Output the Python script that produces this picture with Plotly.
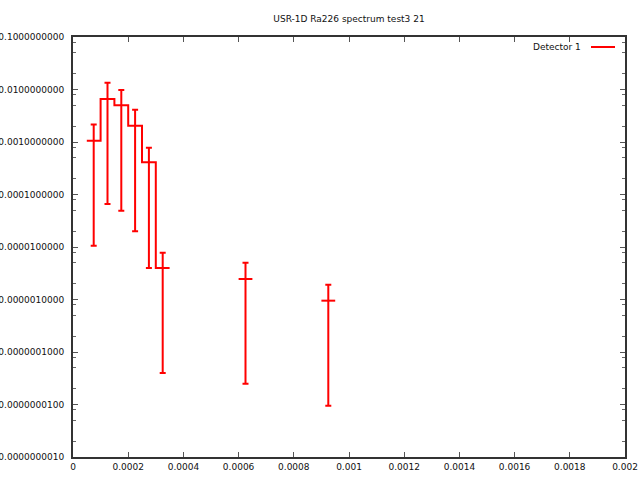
import plotly.graph_objects as go

# ---- data ----
bin_width = 0.00005
bin_lo = [0.00005, 0.0001, 0.00015, 0.0002, 0.00025, 0.0003, 0.0006, 0.0009]
values = [1.06e-3, 6.6e-3, 5.0e-3, 2.05e-3, 4.1e-4, 4.0e-6, 2.46e-6, 9.5e-7]
upper = [2.15e-3, 1.34e-2, 9.8e-3, 4.1e-3, 7.8e-4, 7.8e-6, 5.0e-6, 1.9e-6]
lower = [1.06e-5, 6.6e-5, 4.9e-5, 2.0e-5, 4.0e-6, 4.0e-8, 2.48e-8, 9.5e-9]

x_tickvals = [0, 0.0002, 0.0004, 0.0006, 0.0008, 0.001, 0.0012, 0.0014, 0.0016, 0.0018, 0.002]
x_ticktext = ["0", "0.0002", "0.0004", "0.0006", "0.0008", "0.001", "0.0012", "0.0014", "0.0016", "0.0018", "0.002"]
y_tickvals = [1e-9, 1e-8, 1e-7, 1e-6, 1e-5, 1e-4, 1e-3, 1e-2, 1e-1]
y_ticktext = ["0.0000000010", "0.0000000100", "0.0000001000", "0.0000010000", "0.0000100000",
              "0.0001000000", "0.0010000000", "0.0100000000", "0.1000000000"]
y_minor_factors = [2, 5, 8]

title = "USR-1D Ra226 spectrum test3 21"
series_name = "Detector 1"

RED = "#ff0000"
AX = "#333333"
FONT = "DejaVu Sans"

# ---- build histogram steps (histeps style) ----
centers = [lo + bin_width / 2 for lo in bin_lo]
sx, sy = [], []
for i, lo in enumerate(bin_lo):
    contiguous = i > 0 and abs(lo - (bin_lo[i - 1] + bin_width)) < 1e-12
    if i > 0 and not contiguous:
        sx.append(bin_lo[i - 1] + bin_width); sy.append(values[i - 1])
        sx.append(None); sy.append(None)
    sx.append(lo); sy.append(values[i])
sx.append(bin_lo[-1] + bin_width); sy.append(values[-1])

fig = go.Figure()
fig.add_trace(go.Scatter(
    x=sx, y=sy, mode="lines", line=dict(color=RED, width=2, shape="hv"),
    connectgaps=False, showlegend=False, hoverinfo="skip"))
fig.add_trace(go.Scatter(
    x=centers, y=values, mode="markers", marker=dict(size=0.1, color=RED),
    error_y=dict(type="data", symmetric=False,
                 array=[u - v for u, v in zip(upper, values)],
                 arrayminus=[v - l for v, l in zip(values, lower)],
                 color=RED, thickness=2, width=3),
    name=series_name, showlegend=False))

minor_vals = [f * d for d in y_tickvals[:-1] for f in y_minor_factors]

# geometry of plot area in px
L, R, T, B = 73, 625, 37, 457
W, H = 640, 480
pw, ph = R - L, B - T

def px(xp):
    return (xp - L) / pw

def py(yp):
    return (B - yp) / ph

fig.update_layout(
    width=W, height=H,
    margin=dict(l=L, r=W - R, t=T, b=H - B, autoexpand=False),
    paper_bgcolor="white", plot_bgcolor="white",
    font=dict(family=FONT, size=9, color="#111111"),
    title=dict(text=title, x=0.5, xref="paper", y=1 - 19 / H, yref="container",
               yanchor="middle", xanchor="center", font=dict(family=FONT, size=9, color="#111111")),
    showlegend=False,
    xaxis=dict(range=[0, 0.002], tickmode="array", tickvals=x_tickvals, ticktext=x_ticktext,
               ticks="inside", ticklen=5, tickwidth=1, tickcolor="#555555",
               showline=True, linecolor=AX, linewidth=2, mirror="allticks",
               showgrid=False, zeroline=False, automargin=False),
    yaxis=dict(type="log", range=[-9, -1], tickmode="array", tickvals=y_tickvals, ticktext=y_ticktext,
               ticks="inside", ticklen=5, tickwidth=1, tickcolor="#555555", ticklabelstandoff=5,
               minor=dict(tickmode="array", tickvals=minor_vals, ticks="inside", ticklen=3,
                          tickwidth=1, tickcolor="#666666", showgrid=False),
               showline=True, linecolor=AX, linewidth=2, mirror="allticks",
               showgrid=False, zeroline=False, automargin=False),
)

# legend drawn gnuplot-style: text left of the sample line
fig.add_annotation(text=series_name, xref="paper", yref="paper", x=px(583), y=py(47),
                   xanchor="right", yanchor="middle", showarrow=False,
                   font=dict(family=FONT, size=9, color="#111111"))
fig.add_shape(type="line", xref="paper", yref="paper", x0=px(591), x1=px(615),
              y0=py(47), y1=py(47), line=dict(color=RED, width=2))

fig.write_html("out.html", config={"displayModeBar": False, "staticPlot": True})

# remove the browser's default body margin so the figure sits at the window origin
with open("out.html", "r", encoding="utf-8") as f:
    html = f.read()
html = html.replace("<body>", '<body style="margin:0;padding:0;overflow:hidden">', 1)
with open("out.html", "w", encoding="utf-8") as f:
    f.write(html)
